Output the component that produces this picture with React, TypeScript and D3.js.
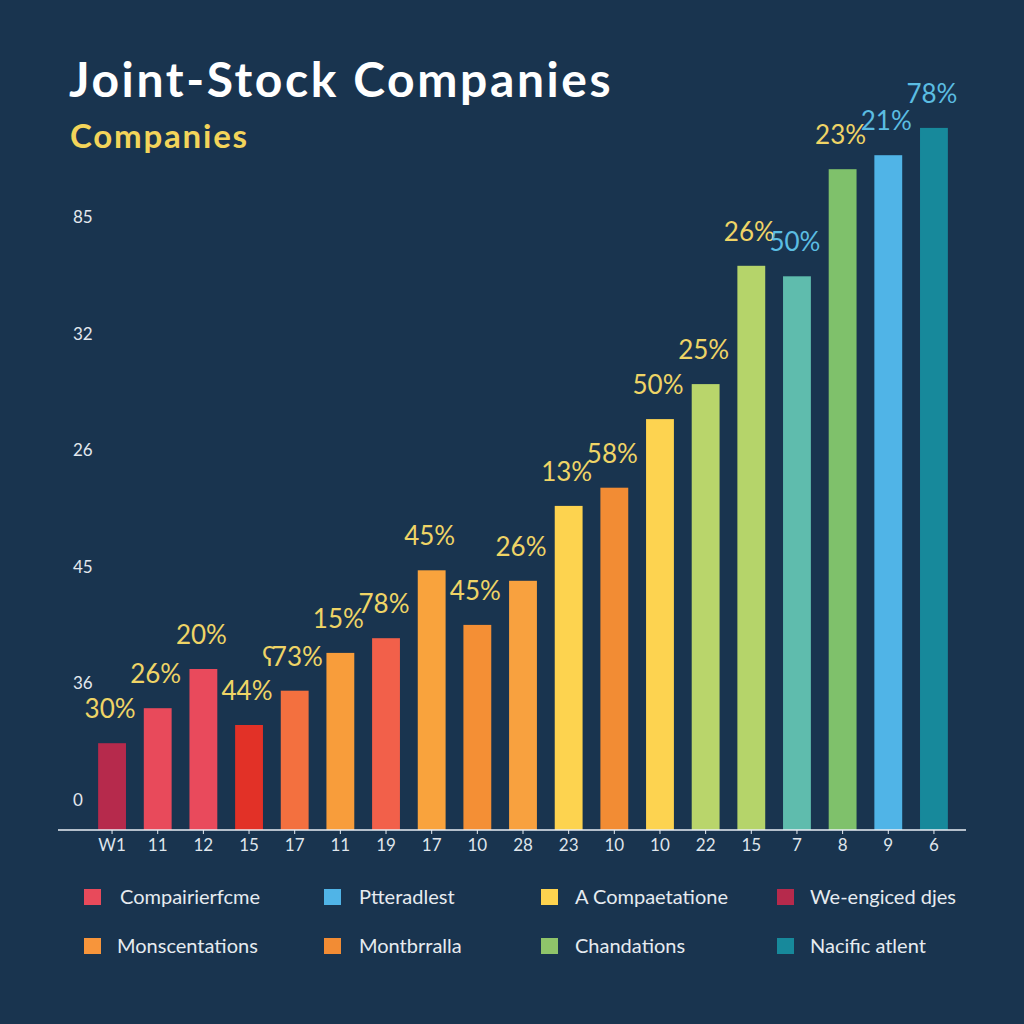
import React from "react";
import * as d3 from "d3";

const categories = ["W1", "11", "12", "15", "17", "11", "19", "17", "10", "28", "23", "10", "10", "22", "15", "7", "8", "9", "6"];
const values = [12.4, 17.4, 23.0, 15.0, 19.9, 25.3, 27.4, 37.1, 29.3, 35.6, 46.3, 48.9, 58.7, 63.7, 80.6, 79.1, 94.4, 96.4, 100.3];
const valueLabels = ["30%", "26%", "20%", "44%", "ʕ73%", "15%", "78%", "45%", "45%", "26%", "13%", "58%", "50%", "25%", "26%", "50%", "23%", "21%", "78%"];
const barColors = ["#b62a4c", "#e84a5b", "#e94a5c", "#e23127", "#f3703f", "#f89d3b", "#f2604a", "#f9a33d", "#f48f35", "#f8a13f", "#fdd34f", "#f28c34", "#fdd350", "#b9d56b", "#b5d46a", "#5fbcad", "#7fc16b", "#50b4e7", "#17899b"];
const labelColors = ["#efd466", "#efd466", "#efd466", "#efd466", "#efd466", "#efd466", "#efd466", "#efd466", "#efd466", "#efd466", "#efd466", "#efd466", "#efd466", "#efd466", "#efd466", "#5bbde2", "#efd466", "#5bbde2", "#5bbde2"];
const yTickLabels = ["0", "36", "45", "26", "32", "85"];
const legendLabels = ["Compairierfcme", "Ptteradlest", "A Compaetatione", "We-engiced dјes", "Monscentations", "Montbrralla", "Chandations", "Nacific atlent"];
const legendColors = ["#e84a5b", "#50b4e7", "#fdd34f", "#b62a4c", "#f7953b", "#f28c34", "#8fc46a", "#17899b"];

const W = 1024;
const H = 1024;
const baseline = 830;
const font = "Lato, 'Noto Sans', sans-serif";

export default function App() {
  const x = d3.scaleBand<number>().domain(d3.range(categories.length)).range([89, 957]).paddingInner(0.39).paddingOuter(0.2);
  const y = d3.scaleLinear().domain([0, 100]).range([baseline, 130]);
  const yTicks = d3.scalePoint<number>().domain(d3.range(yTickLabels.length)).range([800, 217]);
  const legendCols = [83, 323, 540, 776];
  const legendTextX = [120, 359, 575, 810];
  const legendRows = [897, 946];

  return (
    <svg width={W} height={H} style={{ position: "absolute", left: 0, top: 0 }} fontFamily={font}>
      <rect x={0} y={0} width={W} height={H} fill="#19344f" />
      <text x={69} y={97} fill="#ffffff" fontSize={48} fontWeight={700} letterSpacing={2.6}>Joint-Stock Companies</text>
      <text x={70} y={148} fill="#f3d45a" fontSize={33} fontWeight={700} letterSpacing={1.8}>Companies</text>

      {yTickLabels.map((t, i) => (
        <text key={"yt" + i} x={73} y={(yTicks(i) as number) + 6} fill="#e3e8ee" fontSize={17}>{t}</text>
      ))}

      {values.map((v, i) => (
        <rect key={"b" + i} x={x(i)} y={y(v)} width={x.bandwidth()} height={baseline - y(v)} fill={barColors[i]} />
      ))}

      {values.map((v, i) => (
        <text key={"vl" + i} x={(x(i) as number) + x.bandwidth() / 2 - 2} y={y(v) - 25} fill={labelColors[i]} fontSize={26} textAnchor="middle">{valueLabels[i]}</text>
      ))}

      <line x1={58} x2={966} y1={baseline} y2={baseline} stroke="#e8eef4" strokeWidth={1.5} />
      {categories.map((c, i) => {
        const cx = (x(i) as number) + x.bandwidth() / 2;
        return (
          <g key={"xt" + i}>
            <line x1={cx} x2={cx} y1={baseline} y2={baseline + 4} stroke="#e8eef4" strokeWidth={1} />
            <text x={cx} y={851} fill="#dfe5ec" fontSize={17} textAnchor="middle">{c}</text>
          </g>
        );
      })}

      {legendLabels.map((l, i) => {
        const col = i % 4;
        const row = Math.floor(i / 4);
        const cy = legendRows[row];
        return (
          <g key={"lg" + i}>
            <rect x={legendCols[col] + 1} y={cy - 8} width={17} height={16} fill={legendColors[i]} />
            <text x={legendTextX[col] - (row === 1 && col === 0 ? 3 : 0)} y={cy + 7} fill="#e6ebf0" fontSize={20}>{l}</text>
          </g>
        );
      })}
    </svg>
  );
}
